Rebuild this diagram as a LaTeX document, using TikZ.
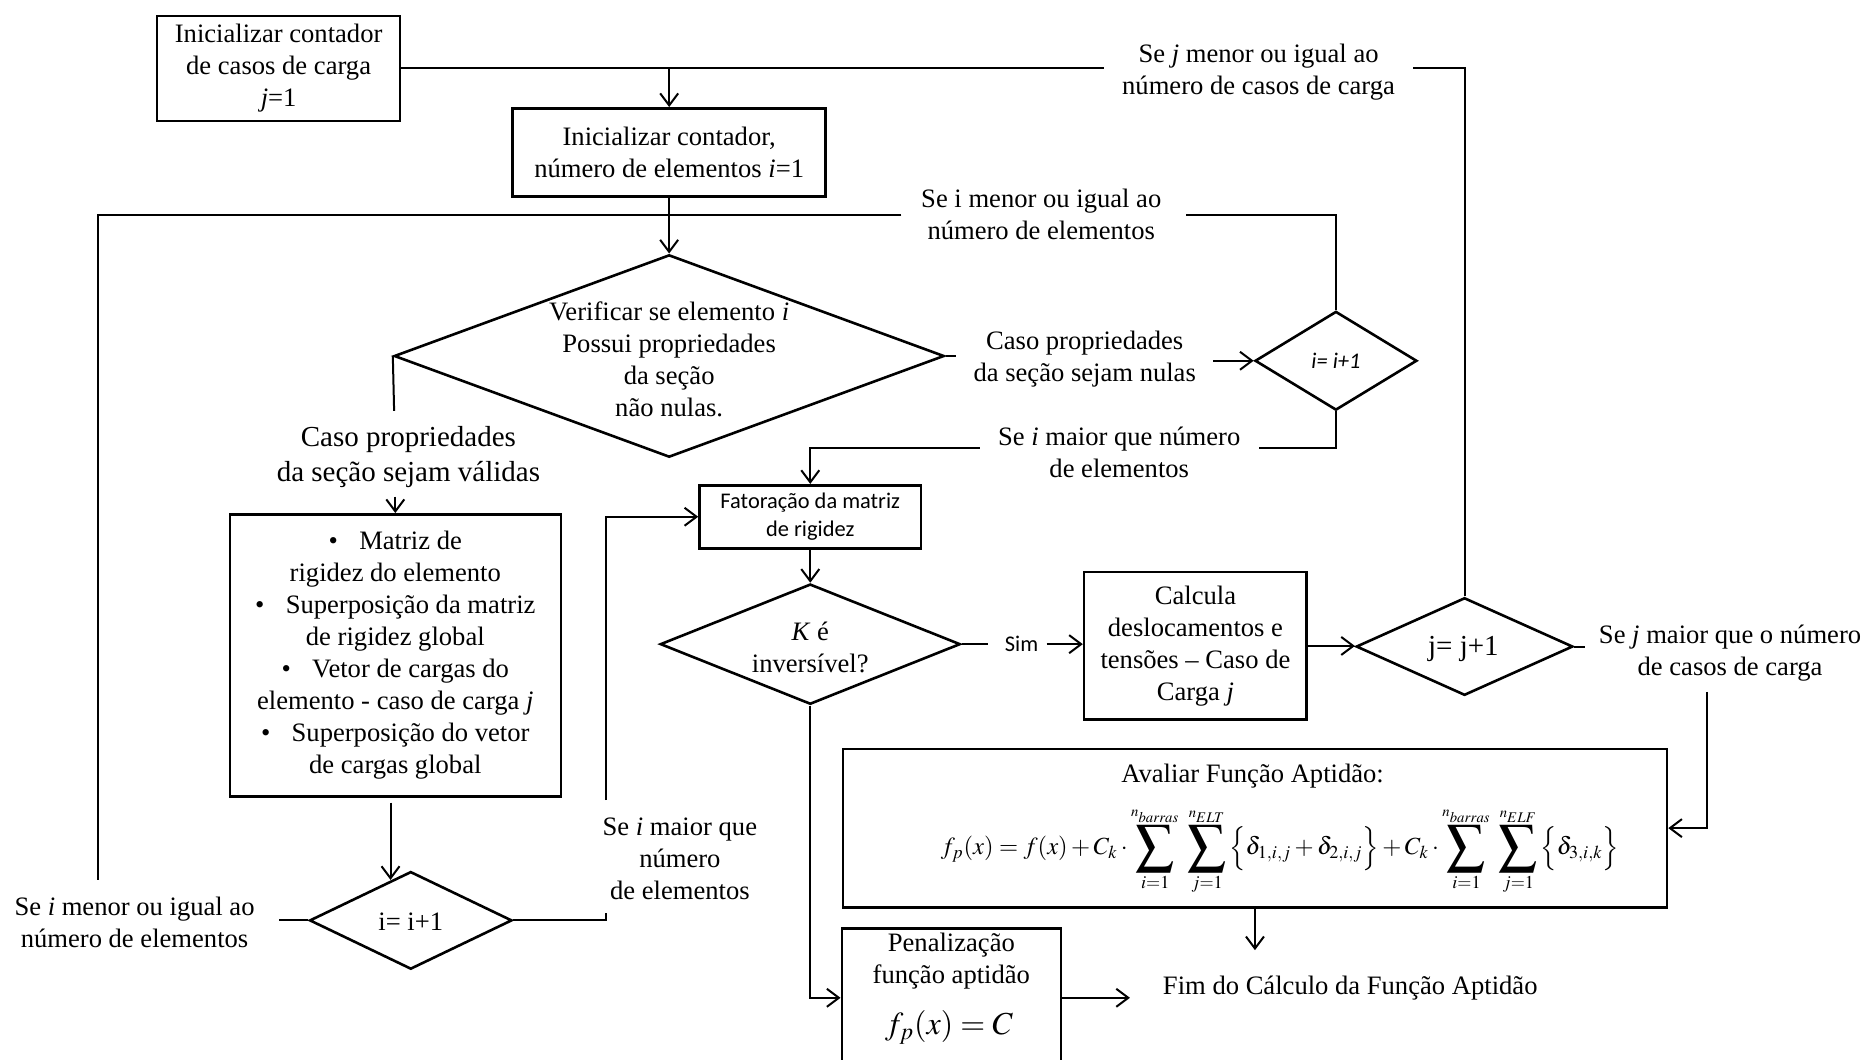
\documentclass[tikz,border=0pt]{standalone}
\usepackage{mathptmx}
\usepackage{fontspec}
\setmainfont{Liberation Serif}
\newfontfamily\calib{Carlito}
\usepackage{graphicx}
\usetikzlibrary{shapes.geometric,arrows.meta}
\newcommand\fs{\fontsize{13.3}{16}\selectfont}
\newcommand\fl{\fontsize{14.5}{17.8}\selectfont}
\newcommand\fsans{\calib\fontsize{11.2}{13.7}\selectfont}
\newcommand\bsumsym{\vcenter{\hbox{\scalebox{1.55}{$\displaystyle\sum$}}}}
\newcommand\bsum{\mathop{\bsumsym}\limits}
\begin{document}
\begin{tikzpicture}[x=0.5954pt,y=-0.5954pt,
  sz/.style 2 args={minimum width=#1*0.5954pt,minimum height=#2*0.5954pt},
  box/.style={draw,line width=1.3pt,inner sep=0pt,align=center,font=\fs},
  dia/.style={draw,diamond,line width=1.3pt,inner sep=0pt},
  txt/.style={align=center,inner sep=0pt,font=\fs},
  conn/.style={line width=1pt},
  arr/.style={conn,-{Straight Barb[length=6pt,width=9pt]}},
]
\useasboundingbox (0,0) rectangle (1568,890);
% ---------- boxes and diamonds ----------
\node[box,sz={204}{88}] (b1) at (234,57.5) {Inicializar contador\\de casos de carga\\\textit{j}=1};
\node[box,sz={263}{74}] (b2) at (562,128) {Inicializar contador,\\número de elementos \textit{i}=1};
\node[dia,sz={462}{170}] (d1) at (562,299) {};
\node[txt] (d1t) at (562,302) {Verificar se elemento \textit{i}\\Possui propriedades\\da seção\\não nulas.};
\node[dia,sz={136}{83}] (d2) at (1122,303) {};
\node[txt,font=\fsans\itshape] (d2t) at (1122,303) {i= i+1};
\node[box,sz={186}{53},font=\fsans] (b4) at (680.5,434) {Fatoração da matriz\\de rigidez};
\node[dia,sz={252}{101}] (d3) at (680.5,541) {};
\node[txt] (d3t) at (680.5,544) {\textit{K} é\\inversível?};
\node[box,sz={187}{124}] (b5) at (1004,542.5) {Calcula\\deslocamentos e\\tensões – Caso de\\Carga \textit{j}};
\node[dia,sz={182}{82}] (d4) at (1230,543) {};
\node[txt,font=\fl] (d4t) at (1229,545) {j= j+1};
\node[box,sz={278}{237}] (b3) at (332,550.5) {\textbullet\hspace{0.8em}Matriz de\\rigidez do elemento\\\textbullet\hspace{0.8em}Superposição da matriz\\de rigidez global\\\textbullet\hspace{0.8em}Vetor de cargas do\\elemento - caso de carga \textit{j}\\\textbullet\hspace{0.8em}Superposição do vetor\\de cargas global};
\node[dia,sz={170}{82}] (d5) at (345,773) {};
\node[txt] (d5t) at (345,774) {i= i+1};
\node[box,sz={692}{133}] (b6) at (1054,695.5) {};
\node[txt] (b6t) at (1052,652) {Avaliar Função Aptidão:};
\node[txt] (b6f) at (1075,715) {\resizebox{339pt}{!}{$\displaystyle f_p(x)=f(x)+C_k\cdot\bsum_{i=1}^{\scriptscriptstyle n_{barras}}\;\bsum_{j=1}^{\scriptscriptstyle n_{ELT}}\left\{\vphantom{\bsumsym}\delta_{1,i,j}+\delta_{2,i,j}\right\}+C_k\cdot\bsum_{i=1}^{\scriptscriptstyle n_{barras}}\;\bsum_{j=1}^{\scriptscriptstyle n_{ELF}}\left\{\vphantom{\bsumsym}\delta_{3,i,k}\right\}$}};
\node[box,sz={184}{116}] (b7) at (799,838) {};
\node[txt] (b7t) at (799,807) {Penalização\\função aptidão};
\node[txt,font=\fontsize{16}{19}\selectfont] (b7f) at (797,863) {$f_p(x)=C$};
\node[txt] (fim) at (1134,830) {Fim do Cálculo da Função Aptidão};
% ---------- labels ----------
\node[txt] (lJle) at (1057,60.5) {Se \textit{j} menor ou igual ao\\número de casos de carga};
\node[txt] (lIle1) at (874.5,180) {Se i menor ou igual ao\\número de elementos};
\node[txt] (lNulas) at (911,301.5) {Caso propriedades\\da seção sejam nulas};
\node[txt] (lImaior) at (940,380) {Se \textit{i} maior que número\\de elementos};
\node[txt,font=\fl] (lValid) at (343,384) {Caso propriedades\\da seção sejam válidas};
\node[txt,font=\fsans] (lSim) at (858,541) {Sim};
\node[txt] (lJmaior) at (1453,548.5) {Se \textit{j} maior que o número\\de casos de carga};
\node[txt] (lImaior2) at (571,721) {Se \textit{i} maior que\\número\\de elementos};
\node[txt] (lIle2) at (113,775) {Se \textit{i} menor ou igual ao\\número de elementos};
% ---------- coordinates ----------
\coordinate (jGapR) at (1187,57.5);
\coordinate (jGapL) at (927,57.5);
\coordinate (jJoin) at (562,57.5);
\coordinate (iGapR) at (996,180.5);
\coordinate (iGapL) at (757,180.5);
\coordinate (iTopL) at (82,180.5);
\coordinate (iLeftEnd) at (82,739);
\coordinate (d5L) at (234,773);
\coordinate (vEnd) at (331,345);
\coordinate (vArr) at (332,417);
\coordinate (nulL) at (803,299);
\coordinate (nulR) at (1019,303);
\coordinate (imR) at (1057,376.5);
\coordinate (imL) at (823,376.5);
\coordinate (simL) at (830,541);
\coordinate (simR) at (879,541);
\coordinate (jmL) at (1331,543);
\coordinate (jmTop) at (1434,581);
\coordinate (fimTop) at (1054,798);
\coordinate (fimL) at (949,838);
\coordinate (b3a) at (328,674);
\coordinate (b3b) at (328,739);
\coordinate (p5a) at (509,767);
\coordinate (p5b) at (509,672);
% ---------- connectors ----------
\draw[conn] (d4.north) |- (jGapR);
\draw[conn] (jGapL) -- (jJoin);
\draw[conn] (b1.east) -- (jJoin);
\draw[arr] (jJoin) -- (b2.north);
\draw[conn] (d2.north) |- (iGapR);
\draw[conn] (iGapL) -- (iTopL) -- (iLeftEnd);
\draw[arr] (b2.south) -- (d1.north);
\draw[conn] (d1.west) -- (vEnd);
\draw[arr] (vArr) -- (b3.north);
\draw[conn] (d1.east) -- (nulL);
\draw[arr] (nulR) -- (d2.west);
\draw[conn] (d2.south) |- (imR);
\draw[arr] (imL) -| (b4.north);
\draw[arr] (b4.south) -- (d3.north);
\draw[conn] (d3.east) -- (simL);
\draw[arr] (simR) -- (simR -| b5.west);
\draw[arr] (b5.east) -- (b5.east -| d4.west);
\draw[conn] (d4.east) -- (jmL);
\draw[arr] (jmTop) |- (b6.east);
\draw[arr] (b6.south) -- (fimTop);
\draw[arr] (b7.east) -- (fimL);
\draw[arr] (d3.south) |- (b7.west);
\draw[arr] (b3a) -- (b3b);
\draw[conn] (d5.east) -| (p5a);
\draw[arr] (p5b) |- (b4.west);
\draw[conn] (d5.west) -- (d5L);
\end{tikzpicture}
\end{document}
